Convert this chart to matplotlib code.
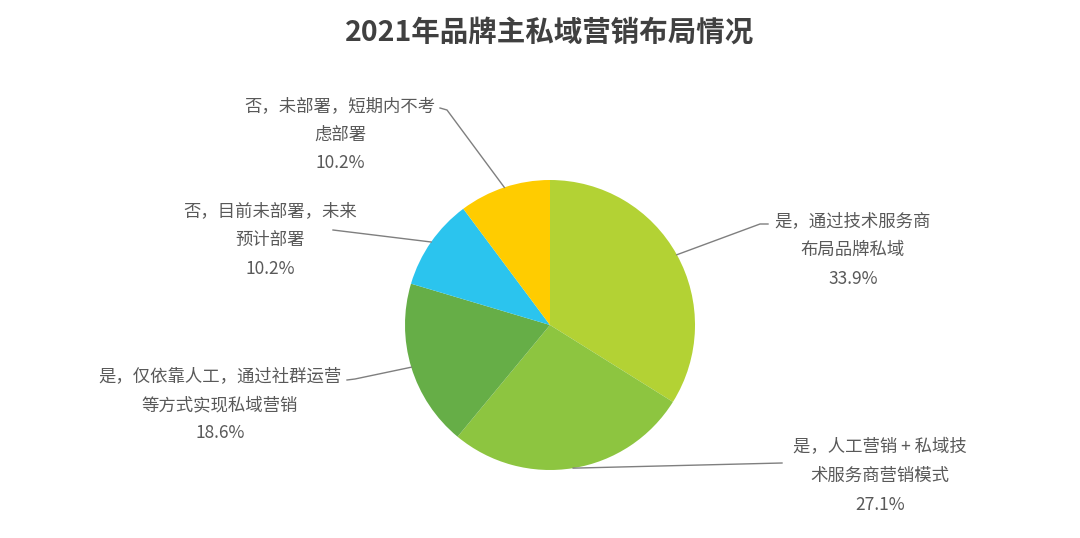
import numpy as np
import matplotlib.pyplot as plt

plt.rcParams['font.family'] = ['Noto Sans CJK SC', 'DejaVu Sans']

# 数据
labels = ['是，通过技术服务商\n布局品牌私域',
          '是，人工营销 + 私域技\n术服务商营销模式',
          '是，仅依靠人工，通过社群运营\n等方式实现私域营销',
          '否，目前未部署，未来\n预计部署',
          '否，未部署，短期内不考\n虑部署']
values = [33.9, 27.1, 18.6, 10.2, 10.2]
colors = ['#B3D234', '#8DC540', '#66AE47', '#2BC4EE', '#FFCC00']

W, H = 1080, 538
fig = plt.figure(figsize=(W / 100, H / 100), dpi=100)
ax = fig.add_axes([0, 0, 1, 1])

cx, cy, r = 550, H - 325, 145
wedges, _ = ax.pie(values, colors=colors, startangle=90, counterclock=False,
                   center=(cx, cy), radius=r, frame=True,
                   wedgeprops=dict(linewidth=0))
ax.set_xlim(0, W)
ax.set_ylim(0, H)
ax.set_aspect('equal')
ax.axis('off')

# 标签位置(像素, 自上而下): 拐点, 终点, 文本中心
layout = [
    ((760, 224), (768, 224), (853, 250)),
    ((782, 463), (782, 463), (880, 476)),
    ((355, 379), (347, 380), (220, 405)),
    ((333, 230), (333, 230), (270, 240)),
    ((447, 110), (440, 108), (340, 135)),
]
line_c = '#7f7f7f'
for w, v, lab, (p1, p2, tc) in zip(wedges, values, labels, layout):
    ang = np.deg2rad((w.theta1 + w.theta2) / 2)
    x0, y0 = cx + r * np.cos(ang), cy + r * np.sin(ang)
    ax.plot([x0, p1[0], p2[0]], [y0, H - p1[1], H - p2[1]], color=line_c, lw=1)
    ax.text(tc[0], H - tc[1], lab + '\n' + f'{v:.1f}%', ha='center', va='center',
            fontsize=12.5, color='#595959', linespacing=1.75)

fig.text(550 / W, 1 - 33 / H, '2021年品牌主私域营销布局情况', ha='center', va='center',
         fontsize=20.5, fontweight='bold', color='#404040')

fig.savefig('out.png', dpi=100, facecolor='white')
